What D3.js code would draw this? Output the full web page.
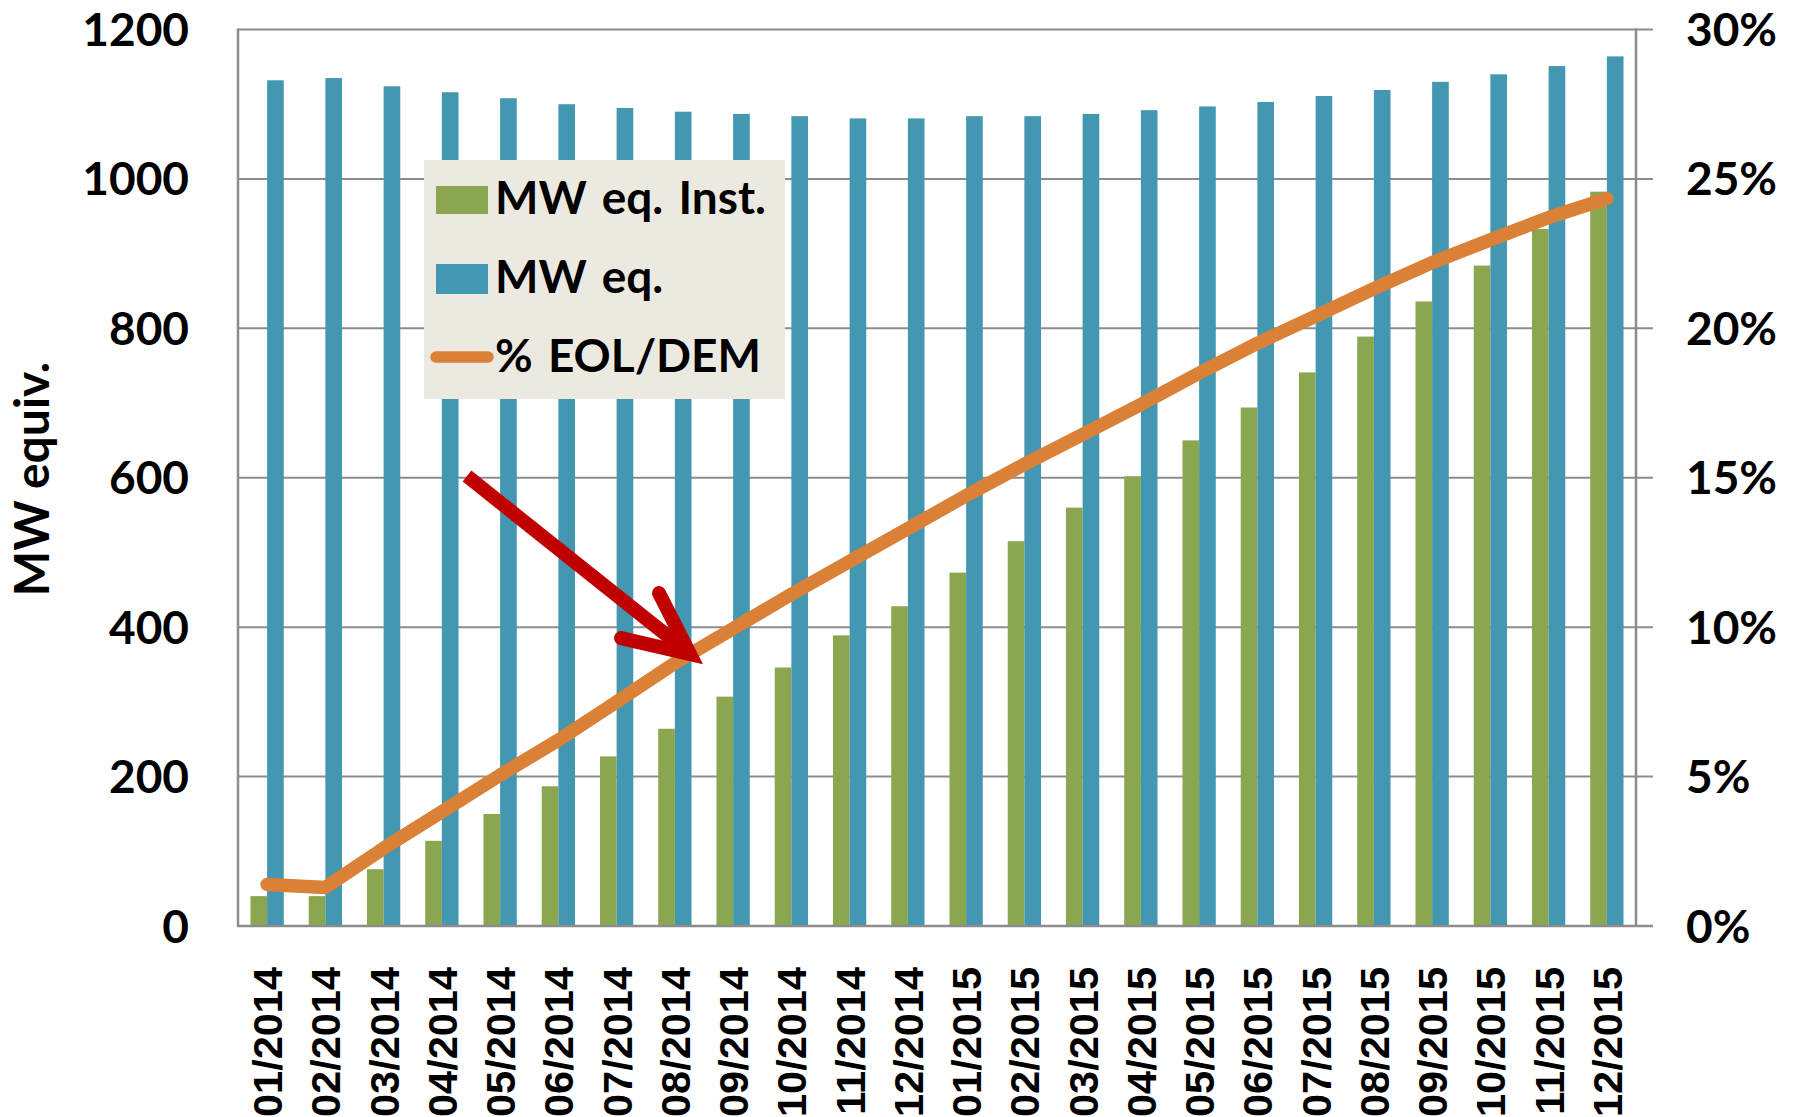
<!DOCTYPE html>
<html>
<head>
<meta charset="utf-8">
<script src="https://cdn.jsdelivr.net/npm/d3@7"></script>
<style>
  html, body { margin: 0; padding: 0; background: #ffffff; }
  svg { display: block; }
</style>
</head>
<body>
<svg id="chart" width="1796" height="1117"></svg>
<script>
// ---------- DATA ----------
const categories = ["01/2014","02/2014","03/2014","04/2014","05/2014","06/2014","07/2014","08/2014","09/2014","10/2014","11/2014","12/2014",
                    "01/2015","02/2015","03/2015","04/2015","05/2015","06/2015","07/2015","08/2015","09/2015","10/2015","11/2015","12/2015"];
const mwEqInst = [40, 40, 76, 114, 150, 187, 227, 264, 307, 346, 389, 428,
                  473, 515, 560, 602, 650, 694, 741, 789, 836, 884, 933, 983];
const mwEq = [1132, 1135, 1124, 1116, 1108, 1100, 1095, 1090, 1087, 1084, 1081, 1081,
              1084, 1084, 1087, 1092, 1097, 1103, 1111, 1119, 1130, 1140, 1151, 1164];
const pctEolDem = [1.39, 1.29, 2.6, 3.82, 5.05, 6.22, 7.5, 8.8, 9.95, 11.1, 12.2, 13.3,
                   14.4, 15.45, 16.45, 17.45, 18.5, 19.5, 20.41, 21.33, 22.2, 22.96, 23.71, 24.34];
const leftTicks = [0, 200, 400, 600, 800, 1000, 1200];
const rightTicks = [0, 5, 10, 15, 20, 25, 30];
const seriesNames = ["MW eq. Inst.", "MW eq.", "% EOL/DEM"];
const yTitle = "MW equiv.";

// ---------- STYLE ----------
const C_GREEN = "#8AA64F", C_BLUE = "#4397B0", C_ORANGE = "#DA8037", C_RED = "#C00000";
const C_GRID = "#8C8C8C", C_LEGEND_BG = "#ECEAE0";
const FONT = "Lato, 'Open Sans', sans-serif";
const FONT_X = "'Liberation Sans', Arial, sans-serif";

const svg = d3.select("#chart");
const plot = { left: 238, right: 1636, top: 29.5, bottom: 926 };

const x0 = d3.scaleBand().domain(categories).range([plot.left, plot.right]).paddingInner(0).paddingOuter(0);
const x1 = d3.scaleBand().domain(["inst", "eq"]).range([0, x0.bandwidth()]).paddingInner(0).paddingOuter(0.75);
const yL = d3.scaleLinear().domain([0, 1200]).range([plot.bottom, plot.top]);
const yR = d3.scaleLinear().domain([0, 30]).range([plot.bottom, plot.top]);

// gridlines (right axis ticks extend outward)
const grid = svg.append("g");
grid.selectAll("line").data(leftTicks.filter(d => d > 0)).join("line")
  .attr("x1", plot.left).attr("x2", plot.right + 17)
  .attr("y1", d => yL(d)).attr("y2", d => yL(d))
  .attr("stroke", C_GRID).attr("stroke-width", 2);

// bars
const groups = svg.append("g").selectAll("g").data(categories).join("g")
  .attr("transform", d => `translate(${x0(d)},0)`);
groups.append("rect")
  .attr("x", x1("inst")).attr("width", x1.bandwidth())
  .attr("y", (d, i) => yL(mwEqInst[i])).attr("height", (d, i) => plot.bottom - yL(mwEqInst[i]))
  .attr("fill", C_GREEN);
groups.append("rect")
  .attr("x", x1("eq")).attr("width", x1.bandwidth())
  .attr("y", (d, i) => yL(mwEq[i])).attr("height", (d, i) => plot.bottom - yL(mwEq[i]))
  .attr("fill", C_BLUE);

// axis lines
const ax = svg.append("g").attr("stroke", C_GRID).attr("stroke-width", 2.5);
ax.append("line").attr("x1", plot.left).attr("x2", plot.left).attr("y1", plot.top - 1).attr("y2", plot.bottom + 1);
ax.append("line").attr("x1", plot.right).attr("x2", plot.right).attr("y1", plot.top - 1).attr("y2", plot.bottom + 1);
ax.append("line").attr("x1", plot.left - 1).attr("x2", plot.right + 17).attr("y1", plot.bottom).attr("y2", plot.bottom);

// left tick labels
svg.append("g").selectAll("text").data(leftTicks).join("text")
  .attr("x", 189).attr("y", d => yL(d)).attr("dy", "0.36em")
  .attr("text-anchor", "end")
  .style("font-family", FONT).style("font-weight", 700).style("font-size", "46px").attr("fill", "#000")
  .text(d => d);

// right tick labels
svg.append("g").selectAll("text").data(rightTicks).join("text")
  .attr("x", 1686).attr("y", d => yR(d)).attr("dy", "0.36em")
  .attr("text-anchor", "start")
  .style("font-family", FONT).style("font-weight", 700).style("font-size", "46px").attr("fill", "#000")
  .text(d => d + "%");

// x labels
svg.append("g").selectAll("text").data(categories).join("text")
  .attr("transform", d => `translate(${x0(d) + x0.bandwidth() / 2},967) rotate(-90)`)
  .attr("dy", "0.36em").attr("text-anchor", "end")
  .style("font-family", FONT_X).style("font-weight", 700).style("font-size", "41.5px").attr("fill", "#000")
  .text(d => d);

// y title
svg.append("text")
  .attr("transform", "translate(32,479) rotate(-90)")
  .attr("dy", "0.36em").attr("text-anchor", "middle")
  .style("font-family", FONT).style("font-weight", 700).style("font-size", "48px").attr("fill", "#000")
  .text(yTitle);

// line
const cx = d => x0(d) + x0.bandwidth() / 2;
const line = d3.line().x((d, i) => cx(categories[i])).y(d => yR(d));
svg.append("path").datum(pctEolDem)
  .attr("d", line).attr("fill", "none")
  .attr("stroke", C_ORANGE).attr("stroke-width", 13.5)
  .attr("stroke-linecap", "round").attr("stroke-linejoin", "round");

// legend
const lg = svg.append("g");
lg.append("rect").attr("x", 424).attr("y", 160).attr("width", 361).attr("height", 239).attr("fill", C_LEGEND_BG);
const rows = [214, 293, 372];
lg.append("rect").attr("x", 436).attr("y", 186).attr("width", 52).attr("height", 28).attr("fill", C_GREEN);
lg.append("rect").attr("x", 436).attr("y", 264).attr("width", 52).attr("height", 30).attr("fill", C_BLUE);
lg.append("line").attr("x1", 436).attr("x2", 488).attr("y1", 357).attr("y2", 357)
  .attr("stroke", C_ORANGE).attr("stroke-width", 11.5).attr("stroke-linecap", "round");
lg.selectAll("text").data(seriesNames).join("text")
  .attr("x", 495).attr("y", (d, i) => rows[i])
  .style("font-family", FONT).style("font-weight", 700).style("font-size", "46px")
  .style("word-spacing", "4px").attr("fill", "#000")
  .text(d => d);

// red arrow annotation pointing at the line between 08/2014 and 09/2014
const t = 0.26;
const tipX = cx(categories[7]) + t * (cx(categories[8]) - cx(categories[7]));
const tipY = yR(pctEolDem[7] + t * (pctEolDem[8] - pctEolDem[7]));
const arrow = svg.append("g").attr("stroke", C_RED).attr("fill", "none");
arrow.append("line")
  .attr("x1", tipX - 223).attr("y1", tipY - 178)
  .attr("x2", tipX - 6).attr("y2", tipY - 5)
  .attr("stroke-width", 14).attr("stroke-linecap", "butt");
arrow.append("path")
  .attr("d", `M${tipX - 31},${tipY - 61} L${tipX},${tipY} L${tipX - 69},${tipY - 16}`)
  .attr("stroke-width", 14).attr("stroke-linecap", "round").attr("stroke-linejoin", "miter");
</script>
</body>
</html>
